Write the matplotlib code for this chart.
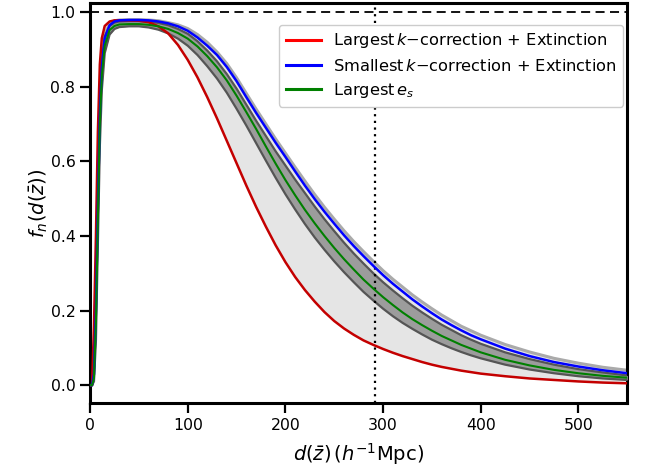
import matplotlib
matplotlib.use("Agg")
import matplotlib.pyplot as plt
from matplotlib.lines import Line2D

# comoving distance grid (h^-1 Mpc)
d = [0, 2, 4, 6, 8, 10, 12, 15, 20, 25, 30, 40, 50, 60, 70, 80, 90, 100,
     110, 120, 130, 140, 150, 160, 170, 180, 190, 200, 210, 220, 230, 240,
     250, 260, 270, 280, 290, 300, 310, 320, 330, 340, 350, 360, 370, 380,
     390, 400, 425, 450, 475, 500, 525, 550]

# selection function, largest k-correction + extinction
f_kmax = [0.0, 0.0, 0.16, 0.40, 0.68, 0.86, 0.93, 0.963, 0.975, 0.978, 0.978,
          0.978, 0.977, 0.973, 0.962, 0.943, 0.912, 0.872, 0.825, 0.772, 0.715,
          0.655, 0.595, 0.535, 0.478, 0.425, 0.375, 0.33, 0.29, 0.255, 0.224,
          0.196, 0.172, 0.152, 0.135, 0.12, 0.108, 0.097, 0.087, 0.078, 0.07,
          0.062, 0.055, 0.049, 0.044, 0.039, 0.035, 0.031, 0.024, 0.018, 0.014,
          0.010, 0.007, 0.005]

# selection function, smallest k-correction + extinction
f_kmin = [0.0, 0.0, 0.03, 0.20, 0.48, 0.72, 0.85, 0.93, 0.965, 0.975, 0.978,
          0.979, 0.979, 0.978, 0.975, 0.97, 0.962, 0.95, 0.932, 0.91, 0.885,
          0.853, 0.815, 0.772, 0.73, 0.69, 0.65, 0.612, 0.573, 0.535, 0.499,
          0.465, 0.433, 0.402, 0.373, 0.346, 0.32, 0.295, 0.272, 0.251, 0.23,
          0.211, 0.193, 0.176, 0.161, 0.147, 0.134, 0.123, 0.098, 0.078, 0.062,
          0.05, 0.04, 0.032]

# selection function, largest e_s
f_es = [0.0, 0.0, 0.02, 0.17, 0.45, 0.70, 0.83, 0.91, 0.952, 0.963, 0.967,
        0.968, 0.968, 0.966, 0.962, 0.955, 0.944, 0.929, 0.908, 0.882, 0.852,
        0.817, 0.776, 0.732, 0.687, 0.64, 0.594, 0.55, 0.509, 0.47, 0.434,
        0.40, 0.368, 0.338, 0.31, 0.283, 0.259, 0.236, 0.215, 0.195, 0.177,
        0.161, 0.146, 0.132, 0.12, 0.108, 0.098, 0.088, 0.068, 0.053, 0.041,
        0.032, 0.025, 0.02]

# e_s uncertainty band
es_hi = [0.0, 0.0, 0.05, 0.25, 0.55, 0.76, 0.87, 0.935, 0.963, 0.972, 0.975,
         0.976, 0.976, 0.975, 0.971, 0.965, 0.955, 0.942, 0.922, 0.897, 0.868,
         0.834, 0.795, 0.752, 0.709, 0.668, 0.627, 0.589, 0.551, 0.515, 0.479,
         0.445, 0.413, 0.382, 0.353, 0.326, 0.30, 0.276, 0.254, 0.233, 0.213,
         0.195, 0.178, 0.162, 0.148, 0.134, 0.122, 0.111, 0.088, 0.07, 0.055,
         0.043, 0.034, 0.026]
es_lo = [0.0, 0.0, 0.01, 0.12, 0.38, 0.64, 0.79, 0.89, 0.94, 0.955, 0.96,
         0.962, 0.962, 0.959, 0.953, 0.943, 0.929, 0.91, 0.885, 0.855, 0.822,
         0.784, 0.741, 0.696, 0.649, 0.602, 0.556, 0.512, 0.471, 0.432, 0.396,
         0.363, 0.332, 0.303, 0.276, 0.25, 0.227, 0.205, 0.185, 0.167, 0.151,
         0.136, 0.122, 0.11, 0.099, 0.089, 0.08, 0.072, 0.055, 0.042, 0.032,
         0.024, 0.018, 0.014]

# upper envelope of the full systematic range
env_hi = [0.0, 0.0, 0.05, 0.25, 0.55, 0.76, 0.87, 0.94, 0.968, 0.977, 0.979,
          0.98, 0.98, 0.979, 0.977, 0.972, 0.966, 0.956, 0.94, 0.919, 0.893,
          0.862, 0.824, 0.782, 0.74, 0.70, 0.66, 0.622, 0.584, 0.547, 0.511,
          0.477, 0.445, 0.414, 0.385, 0.358, 0.332, 0.307, 0.284, 0.263, 0.242,
          0.223, 0.205, 0.188, 0.173, 0.158, 0.146, 0.134, 0.109, 0.089, 0.072,
          0.059, 0.048, 0.04]

d_ref = 292  # reference depth

fig = plt.figure(figsize=(6.48, 4.72), dpi=100)
ax = fig.add_axes([0.139, 0.146, 0.829, 0.848])

ax.fill_between(d, f_kmax, env_hi, color="#e5e5e5", lw=0, zorder=1)
ax.plot(d, env_hi, color="#aaaaaa", lw=2.2, zorder=2)
ax.fill_between(d, es_lo, es_hi, color="#9c9c9c", lw=0, zorder=3)
ax.plot(d, es_hi, color="#555555", lw=1.6, zorder=4)
ax.plot(d, es_lo, color="#555555", lw=1.6, zorder=4)

ax.plot(d, f_kmax, color="#c40000", lw=1.8, zorder=6)
ax.plot(d, f_kmin, color="#0000ff", lw=1.8, zorder=6)
ax.plot(d, f_es, color="#008000", lw=1.5, zorder=6)

ax.axhline(1.0, color="black", ls=(0, (5, 3)), lw=1.3, zorder=5)
ax.axvline(d_ref, color="black", ls=(0, (1, 2)), lw=1.6, zorder=5)

ax.set_xlim(0, 550)
ax.set_ylim(-0.048, 1.025)
ax.set_xticks([0, 100, 200, 300, 400, 500])
ax.set_yticks([0.0, 0.2, 0.4, 0.6, 0.8, 1.0])
ax.set_yticklabels(["0.0", "0.2", "0.4", "0.6", "0.8", "1.0"])

for s in ax.spines.values():
    s.set_linewidth(2.2)
ax.tick_params(axis="both", which="major", direction="out", length=7,
               width=1.6, labelsize=11.3)

ax.set_xlabel(r"$d(\bar{z})\,(h^{-1}\mathrm{Mpc})$", fontsize=14, labelpad=6)
ax.set_ylabel(r"$f_n(d(\bar{z}))$", fontsize=14, labelpad=0)

handles = [
    Line2D([], [], color="#ff0000", lw=2.2),
    Line2D([], [], color="#0000ff", lw=2.2),
    Line2D([], [], color="#008000", lw=2.2),
]
labels = [
    r"Largest$\,k$" + "\u2212correction + Extinction",
    r"Smallest$\,k$" + "\u2212correction + Extinction",
    r"Largest$\,e_s$",
]
ax.legend(handles, labels, loc="upper right", fontsize=11.7,
          bbox_to_anchor=(1.007, 0.965), framealpha=1.0, edgecolor="#cccccc",
          handlelength=2.2, borderpad=0.4, labelspacing=0.45,
          handletextpad=0.7)

fig.savefig("out.png", dpi=100)
